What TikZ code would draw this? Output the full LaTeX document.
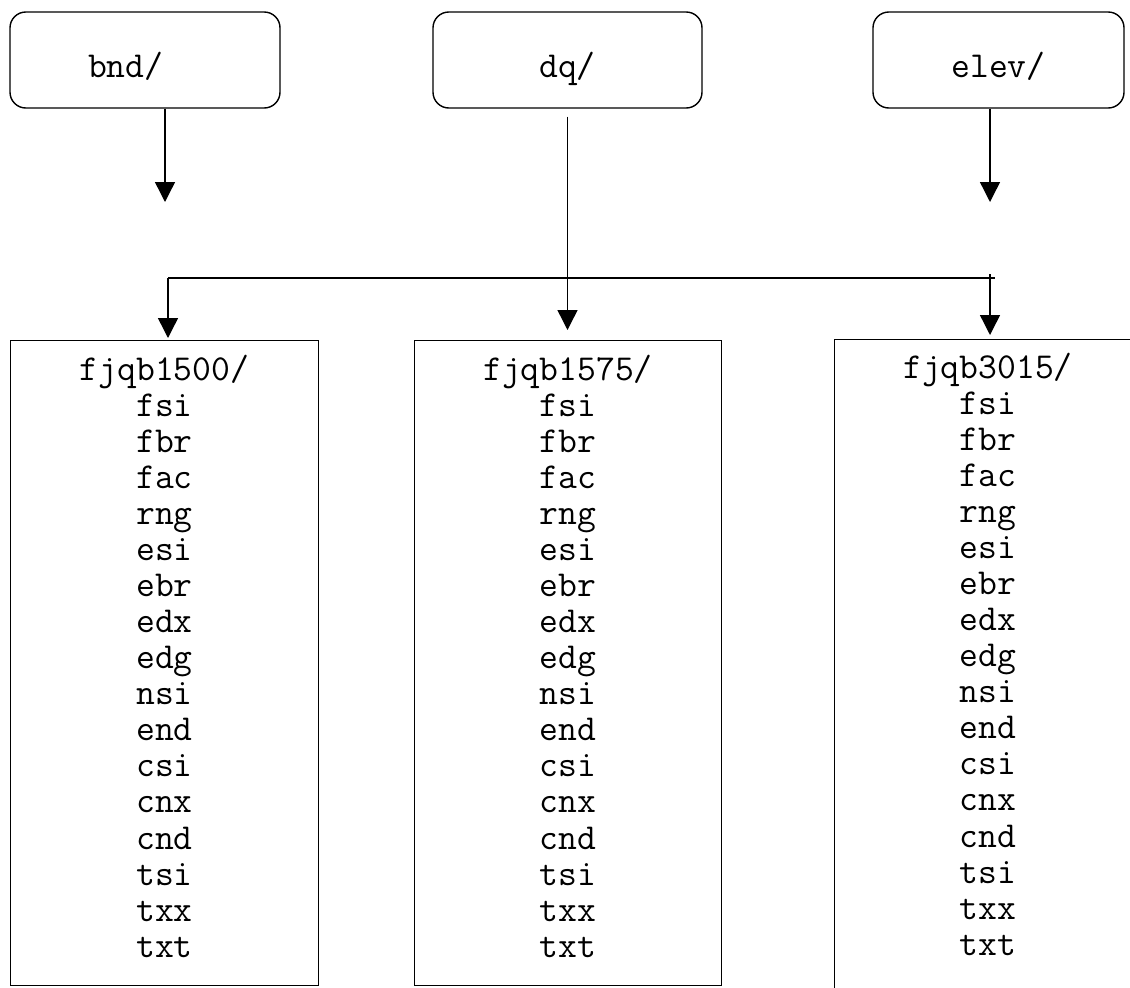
\documentclass[tikz,border=0pt]{standalone}
\usepackage{fontspec}
\usetikzlibrary{arrows.meta, positioning}
\newcommand{\trackfiles}{fsi\\fbr\\fac\\rng\\esi\\ebr\\edx\\edg\\nsi\\end\\csi\\cnx\\cnd\\tsi\\txx\\txt}

\begin{document}
\begin{tikzpicture}[
  dirbox/.style={draw, line width=0.8pt, rounded corners=9pt, minimum height=1.92cm, font=\ttfamily\fontsize{20.8pt}{20.5pt}\selectfont, text height=0.8cm, text depth=0.12cm},
  listbox/.style={draw, line width=0.8pt, anchor=north, minimum width=6.15cm, minimum height=12.9cm, align=center, font=\ttfamily\fontsize{20.8pt}{20.5pt}\selectfont, text depth=0.28cm},
  arr/.style={-{Triangle[width=0.4cm, length=0.4cm]}, line width=0.8pt}
]
  \clip (0,0) rectangle (22.6,-19.74);
  \node[dirbox, minimum width=5.4cm] (bnd) at (2.9,-1.2) {bnd/\hspace*{1.05em}};
  \node[dirbox, minimum width=5.38cm] (dq) at (11.35,-1.2) {dq/};
  \node[dirbox, minimum width=5.02cm] (elev) at (19.97,-1.2) {elev/};
  \node[listbox] (f1500) at (3.29,-6.8) {fjqb1500/\\\trackfiles};
  \node[listbox] (f1575) at (11.36,-6.8) {fjqb1575/\\\trackfiles};
  \node[listbox, minimum height=14.02cm, text depth=1.44cm] (f3015) at (19.76,-6.78) {fjqb3015/\\\trackfiles};
  \coordinate (bndtip) at (3.3,-4.04);
  \coordinate (elevtip) at (19.8,-4.04);
  \coordinate (jl) at (3.36,-5.56);
  \coordinate (jr) at (19.9,-5.56);
  \coordinate (jt) at (19.8,-5.48);
  \draw[arr] (bndtip |- bnd.south) -- (bndtip);
  \draw[arr] (elevtip |- elev.south) -- (elevtip);
  \draw[arr, shorten <=0.16cm, shorten >=0.2cm] (dq.south) -- (dq.south |- f1575.north);
  \draw[line width=0.8pt] (jl) -- (jr);
  \draw[arr, shorten >=0.04cm] (jl) -- (jl |- f1500.north);
  \draw[arr, shorten >=0.08cm] (jt) -- (jt |- f3015.north);
\end{tikzpicture}
\end{document}
